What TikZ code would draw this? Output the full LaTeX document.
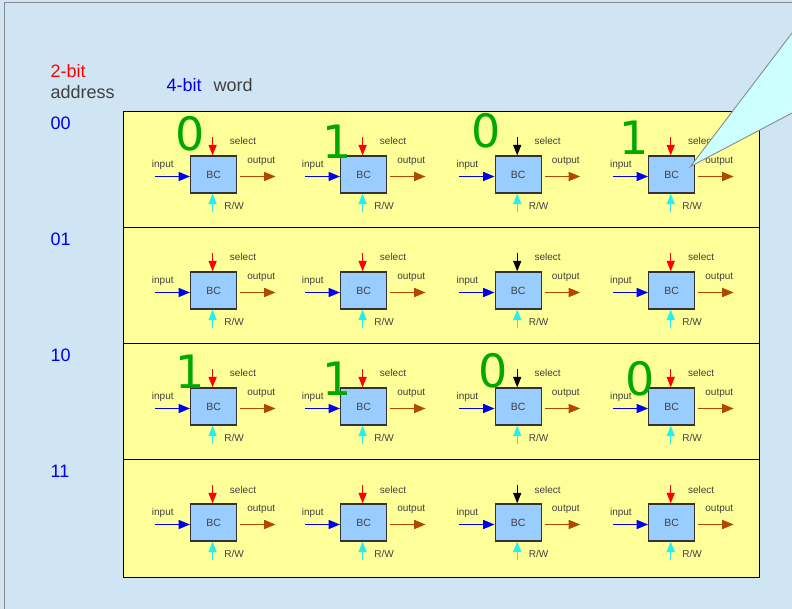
\documentclass[tikz,border=0pt]{standalone}
\usepackage{fontspec}
\setmainfont{Liberation Sans}
\newfontfamily\digitfont{DejaVu Sans}
\usetikzlibrary{arrows.meta,calc}

\definecolor{bgblue}{HTML}{CFE5F3}
\definecolor{rowyellow}{HTML}{FFFF99}
\definecolor{cellblue}{HTML}{99CCFF}
\definecolor{txtgray}{HTML}{404040}
\definecolor{bitgreen}{HTML}{00A800}
\definecolor{outbrown}{HTML}{B04800}
\definecolor{rwcyan}{HTML}{22F0F0}
\definecolor{inblue}{HTML}{0000EE}
\definecolor{calloutcyan}{HTML}{CCFFFF}
\definecolor{framegray}{HTML}{8A8A8A}

\tikzset{
  bc/.style={draw=black!80, line width=1.2pt, fill=cellblue,
    minimum width=46pt, minimum height=37pt, inner sep=0pt,
    font=\fontsize{10.5}{12}\selectfont, text=txtgray},
  lbl/.style={anchor=base, inner sep=0pt, text=txtgray,
    font=\fontsize{10}{12}\selectfont},
  sig/.style={line width=1.6pt, draw=#1,
    -{Triangle[length=11.5pt,width=9pt,fill=#1]}},
  sel/.style={line width=1.4pt, draw=#1,
    -{Triangle[length=10.5pt,width=8pt,fill=#1]}},
  bit/.style={inner sep=0pt, text=bitgreen,
    font=\digitfont\fontsize{46}{50}\selectfont},
  head/.style={anchor=west, inner sep=0pt,
    font=\fontsize{18}{20}\selectfont},
  addr/.style={anchor=west, inner sep=0pt, text=inblue,
    font=\fontsize{18}{20}\selectfont},
}

\begin{document}
\begin{tikzpicture}[x=1pt,y=-1pt]
\useasboundingbox (0,0) rectangle (792,609);

% slide background
\fill[bgblue] (0,0) rectangle (792,609);
\draw[framegray, line width=1pt] (4.5,609) -- (4.5,3) -- (792,3);

% headings
\node[head, text=red] (twobit) at (50.5,71.5) {2-bit};
\node[head, text=txtgray] (address) at (50.5,92.5) {address};
\node[head, text=inblue] (fourbit) at (166.5,85) {4-bit};
\node[head, text=txtgray] (word) at (213.5,85) {word};

% memory array: four rows of four cells
\draw[black, line width=0.9pt, fill=rowyellow] (123,111) rectangle (759,577);
\foreach \ys in {227,343,459}
  \draw[black, line width=0.9pt] (123,\ys) -- (759,\ys);

\node[addr] (a00) at (50.5,123.3) {00};
\node[addr] (a01) at (50.5,239.5) {01};
\node[addr] (a10) at (50.5,355.3) {10};
\node[addr] (a11) at (50.5,471.3) {11};

\foreach \r/\cy in {0/174.5,1/290.5,2/406.5,3/522.5} {
  \foreach \c/\cx/\sc in {1/213.6/red,2/363.6/red,3/518.2/black,4/671.7/red} {
    \node[bc] (bc\r\c) at (\cx,\cy) {BC};
    \coordinate (in\r\c) at (\cx-59,\cy+2);
    \coordinate (sl\r\c) at (\cx-1,\cy-37.5);
    \coordinate (ot\r\c) at (\cx+62,\cy+2);
    \coordinate (rw\r\c) at (\cx-1,\cy+37.5);
    \draw[sig=inblue] (in\r\c) -- (bc\r\c.west |- in\r\c);
    \draw[sel=\sc] (sl\r\c) -- (sl\r\c |- bc\r\c.north);
    \draw[sig=outbrown, shorten <=2.7pt] (bc\r\c.east |- ot\r\c) -- (ot\r\c);
    \draw[sel=rwcyan] (rw\r\c) -- (rw\r\c |- bc\r\c.south);
    \node[lbl] (li\r\c) at (\cx-50.8,\cy-6.8) {input};
    \node[lbl] (ls\r\c) at (\cx+29.4,\cy-29.5) {select};
    \node[lbl] (lo\r\c) at (\cx+47.6,\cy-11.2) {output};
    \node[lbl] (lr\r\c) at (\cx+20.4,\cy+34.8) {R/W};
  }
}

% stored bit values
\node[bit] (b01) at (189.7,133.7) {0};
\node[bit] (b02) at (336.7,141.7) {1};
\node[bit] (b03) at (485.7,130.8) {0};
\node[bit] (b04) at (634.0,137.5) {1};
\node[bit] (b21) at (190.0,371.5) {1};
\node[bit] (b22) at (336.7,378.3) {1};
\node[bit] (b23) at (493.5,371.2) {0};
\node[bit] (b24) at (640.0,379.2) {0};

% callout pointing at one cell
\coordinate (tip) at (690.5,166.5);
\coordinate (cu) at (792,33);
\coordinate (cl) at (792,113);
\fill[calloutcyan] (tip) -- (cu) -- (cl) -- cycle;
\draw[framegray, line width=0.9pt] (cu) -- (tip) -- (cl);
\end{tikzpicture}
\end{document}
